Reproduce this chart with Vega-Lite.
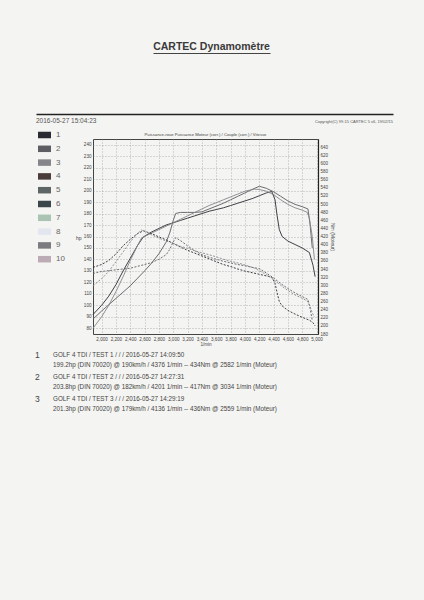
{
  "$schema": "https://vega.github.io/schema/vega-lite/v6.json",
  "background": "#f4f4f2",
  "padding": {"left": 35, "top": 41, "right": 32, "bottom": 187},
  "config": {
    "font": "Liberation Sans",
    "view": {"stroke": null},
    "axis": {"labelFont": "Liberation Sans", "titleFont": "Liberation Sans", "labelColor": "#444", "titleColor": "#444", "titleFontWeight": "normal"}
  },
  "spacing": 1,
  "datasets": {
    "runs": [
      {"test": "1", "rpm": 1880, "hp": 92, "nm": 344},
      {"test": "1", "rpm": 2000, "hp": 100, "nm": 351},
      {"test": "1", "rpm": 2100, "hp": 108, "nm": 361},
      {"test": "1", "rpm": 2200, "hp": 118, "nm": 377},
      {"test": "1", "rpm": 2300, "hp": 130, "nm": 397},
      {"test": "1", "rpm": 2400, "hp": 141, "nm": 413},
      {"test": "1", "rpm": 2500, "hp": 152, "nm": 427},
      {"test": "1", "rpm": 2582, "hp": 159.6, "nm": 434},
      {"test": "1", "rpm": 2700, "hp": 164, "nm": 427},
      {"test": "1", "rpm": 2800, "hp": 167, "nm": 419},
      {"test": "1", "rpm": 2900, "hp": 170, "nm": 412},
      {"test": "1", "rpm": 3000, "hp": 172, "nm": 403},
      {"test": "1", "rpm": 3100, "hp": 174, "nm": 394},
      {"test": "1", "rpm": 3200, "hp": 176, "nm": 386},
      {"test": "1", "rpm": 3300, "hp": 178, "nm": 379},
      {"test": "1", "rpm": 3400, "hp": 180, "nm": 372},
      {"test": "1", "rpm": 3500, "hp": 182, "nm": 365},
      {"test": "1", "rpm": 3600, "hp": 183.5, "nm": 358},
      {"test": "1", "rpm": 3700, "hp": 185, "nm": 351},
      {"test": "1", "rpm": 3800, "hp": 187, "nm": 346},
      {"test": "1", "rpm": 3900, "hp": 189, "nm": 340},
      {"test": "1", "rpm": 4000, "hp": 191, "nm": 335},
      {"test": "1", "rpm": 4100, "hp": 193, "nm": 331},
      {"test": "1", "rpm": 4200, "hp": 195.5, "nm": 327},
      {"test": "1", "rpm": 4300, "hp": 198, "nm": 323},
      {"test": "1", "rpm": 4376, "hp": 199.2, "nm": 320},
      {"test": "1", "rpm": 4420, "hp": 192, "nm": 305},
      {"test": "1", "rpm": 4450, "hp": 178, "nm": 281},
      {"test": "1", "rpm": 4480, "hp": 166, "nm": 260},
      {"test": "1", "rpm": 4520, "hp": 160, "nm": 249},
      {"test": "1", "rpm": 4600, "hp": 156, "nm": 238},
      {"test": "1", "rpm": 4700, "hp": 153, "nm": 229},
      {"test": "1", "rpm": 4800, "hp": 150, "nm": 221},
      {"test": "1", "rpm": 4900, "hp": 146, "nm": 214},
      {"test": "1", "rpm": 4950, "hp": 135, "nm": 208},
      {"test": "1", "rpm": 4980, "hp": 125, "nm": 200},
      {"test": "2", "rpm": 1880, "hp": 88, "nm": 329},
      {"test": "2", "rpm": 2000, "hp": 95, "nm": 334},
      {"test": "2", "rpm": 2200, "hp": 106, "nm": 338},
      {"test": "2", "rpm": 2400, "hp": 117, "nm": 342},
      {"test": "2", "rpm": 2600, "hp": 130, "nm": 351},
      {"test": "2", "rpm": 2700, "hp": 137, "nm": 356},
      {"test": "2", "rpm": 2800, "hp": 145, "nm": 364},
      {"test": "2", "rpm": 2900, "hp": 155, "nm": 375},
      {"test": "2", "rpm": 2950, "hp": 163, "nm": 388},
      {"test": "2", "rpm": 3000, "hp": 174, "nm": 407},
      {"test": "2", "rpm": 3034, "hp": 180.1, "nm": 417},
      {"test": "2", "rpm": 3100, "hp": 181, "nm": 410},
      {"test": "2", "rpm": 3200, "hp": 181, "nm": 397},
      {"test": "2", "rpm": 3300, "hp": 181, "nm": 385},
      {"test": "2", "rpm": 3400, "hp": 181.5, "nm": 375},
      {"test": "2", "rpm": 3500, "hp": 184, "nm": 369},
      {"test": "2", "rpm": 3600, "hp": 186.5, "nm": 364},
      {"test": "2", "rpm": 3700, "hp": 189, "nm": 359},
      {"test": "2", "rpm": 3800, "hp": 192, "nm": 355},
      {"test": "2", "rpm": 3900, "hp": 195, "nm": 351},
      {"test": "2", "rpm": 4000, "hp": 198, "nm": 348},
      {"test": "2", "rpm": 4100, "hp": 201, "nm": 344},
      {"test": "2", "rpm": 4201, "hp": 203.8, "nm": 341},
      {"test": "2", "rpm": 4300, "hp": 202, "nm": 330},
      {"test": "2", "rpm": 4400, "hp": 199, "nm": 318},
      {"test": "2", "rpm": 4500, "hp": 195, "nm": 304},
      {"test": "2", "rpm": 4600, "hp": 191, "nm": 292},
      {"test": "2", "rpm": 4700, "hp": 188, "nm": 281},
      {"test": "2", "rpm": 4800, "hp": 186, "nm": 272},
      {"test": "2", "rpm": 4880, "hp": 184, "nm": 265},
      {"test": "2", "rpm": 4910, "hp": 170, "nm": 243},
      {"test": "2", "rpm": 4940, "hp": 150, "nm": 213},
      {"test": "3", "rpm": 1880, "hp": 80, "nm": 299},
      {"test": "3", "rpm": 2000, "hp": 90, "nm": 316},
      {"test": "3", "rpm": 2100, "hp": 100, "nm": 334},
      {"test": "3", "rpm": 2200, "hp": 112, "nm": 358},
      {"test": "3", "rpm": 2300, "hp": 125, "nm": 382},
      {"test": "3", "rpm": 2400, "hp": 139, "nm": 407},
      {"test": "3", "rpm": 2500, "hp": 152, "nm": 427},
      {"test": "3", "rpm": 2559, "hp": 158.9, "nm": 436},
      {"test": "3", "rpm": 2700, "hp": 163, "nm": 424},
      {"test": "3", "rpm": 2800, "hp": 166, "nm": 416},
      {"test": "3", "rpm": 2900, "hp": 169, "nm": 409},
      {"test": "3", "rpm": 3000, "hp": 172, "nm": 403},
      {"test": "3", "rpm": 3100, "hp": 175, "nm": 396},
      {"test": "3", "rpm": 3200, "hp": 178, "nm": 391},
      {"test": "3", "rpm": 3300, "hp": 181, "nm": 385},
      {"test": "3", "rpm": 3400, "hp": 184, "nm": 380},
      {"test": "3", "rpm": 3500, "hp": 187, "nm": 375},
      {"test": "3", "rpm": 3600, "hp": 189.5, "nm": 370},
      {"test": "3", "rpm": 3700, "hp": 192, "nm": 364},
      {"test": "3", "rpm": 3800, "hp": 194.5, "nm": 359},
      {"test": "3", "rpm": 3900, "hp": 197, "nm": 355},
      {"test": "3", "rpm": 4000, "hp": 199.5, "nm": 350},
      {"test": "3", "rpm": 4136, "hp": 201.3, "nm": 342},
      {"test": "3", "rpm": 4200, "hp": 201, "nm": 336},
      {"test": "3", "rpm": 4300, "hp": 199.5, "nm": 326},
      {"test": "3", "rpm": 4400, "hp": 196.5, "nm": 314},
      {"test": "3", "rpm": 4500, "hp": 192, "nm": 300},
      {"test": "3", "rpm": 4600, "hp": 188, "nm": 287},
      {"test": "3", "rpm": 4700, "hp": 185, "nm": 276},
      {"test": "3", "rpm": 4800, "hp": 183, "nm": 268},
      {"test": "3", "rpm": 4870, "hp": 181, "nm": 261},
      {"test": "3", "rpm": 4900, "hp": 176, "nm": 252},
      {"test": "3", "rpm": 4940, "hp": 160, "nm": 232},
      {"test": "3", "rpm": 4970, "hp": 140, "nm": 222}
    ],
    "tests": [
      {"test": "1", "info": "GOLF 4 TDI / TEST 1 /  /  / 2016-05-27 14:09:50\n199.2hp (DIN 70020) @ 190km/h / 4376 1/min -- 434Nm @ 2582 1/min (Moteur)"},
      {"test": "2", "info": "GOLF 4 TDI / TEST 2 /  /  / 2016-05-27 14:27:31\n203.8hp (DIN 70020) @ 182km/h / 4201 1/min -- 417Nm @ 3034 1/min (Moteur)"},
      {"test": "3", "info": "GOLF 4 TDI / TEST 3 /  /  / 2016-05-27 14:29:19\n201.3hp (DIN 70020) @ 179km/h / 4136 1/min -- 436Nm @ 2559 1/min (Moteur)"}
    ]
  },
  "vconcat": [
    {
      "width": 237,
      "height": 60,
      "title": {"text": "CARTEC Dynamomètre", "fontSize": 10.5, "fontWeight": "bold", "color": "#3a3a3a", "anchor": "middle", "offset": 1},
      "data": {"values": []},
      "mark": {"type": "text"},
      "encoding": {
        "x": {"field": "side", "type": "nominal", "scale": {"type": "point", "domain": ["start", "end"], "range": [60, 177], "padding": 0},
              "axis": {"orient": "top", "title": null, "labels": false, "ticks": false, "domain": true, "domainColor": "#444", "domainWidth": 1}}
      }
    },
    {
      "width": 300,
      "height": 17,
      "encoding": {
        "x": {"field": "side", "type": "nominal", "scale": {"type": "point", "domain": ["left", "right"], "range": [-57, 300], "padding": 0},
              "axis": {"orient": "top", "title": null, "labels": false, "ticks": false, "domain": true, "domainColor": "#222", "domainWidth": 1.5}},
        "text": {"field": "label"}
      },
      "layer": [
        {"data": {"values": [{"side": "left", "label": "2016-05-27 15:04:23"}]},
         "mark": {"type": "text", "align": "left", "baseline": "alphabetic", "fontSize": 6.5, "color": "#555"}},
        {"data": {"values": [{"side": "right", "label": "Copyright(C) 99-15 CARTEC 5 v6, 19/02/15"}]},
         "mark": {"type": "text", "align": "right", "baseline": "alphabetic", "fontSize": 4, "color": "#555"}}
      ]
    },
    {
      "width": 225,
      "height": 195,
      "view": {"stroke": "#444", "strokeWidth": 1},
      "title": {"text": "Puissance-roue Puissance Moteur (corr.) / Couple (corr.) / Vitesse", "fontSize": 4.2, "fontWeight": "normal", "color": "#444", "offset": 2, "anchor": "middle"},
      "data": {"name": "runs"},
      "encoding": {
        "x": {"field": "rpm", "type": "quantitative",
              "scale": {"domain": [1880, 5020], "nice": false, "zero": false},
              "axis": {"values": [2000, 2200, 2400, 2600, 2800, 3000, 3200, 3400, 3600, 3800, 4000, 4200, 4400, 4600, 4800, 5000],
                       "format": ",.0f", "labelFontSize": 4.6, "labelPadding": 2, "tickSize": 0, "domain": false,
                       "grid": true, "gridDash": [1, 2], "gridColor": "#8a8a8a", "gridWidth": 0.6,
                       "title": "1/min", "titleFontSize": 4.6, "titlePadding": 1}},
        "color": {"field": "test", "type": "nominal",
                  "scale": {"domain": ["1", "2", "3", "4", "5", "6", "7", "8", "9", "10"],
                            "range": ["#2b2b33", "#5e5e62", "#86868a", "#4b3c3c", "#5d6664", "#3c474c", "#a9c4b2", "#e3e6ef", "#7c7c80", "#bcaab4"]},
                  "legend": {"orient": "none", "legendX": -58, "legendY": 72.5, "padding": 3, "title": null,
                             "symbolType": "M-1,-0.5H1V0.5H-1Z", "symbolSize": 169, "symbolStrokeWidth": 0, "symbolDash": [],
                             "labelFontSize": 8, "labelColor": "#666", "labelOffset": 5, "rowPadding": 2.8,
                             "encode": {"symbols": {"update": {"fill": {"scale": "color", "field": "value"}, "fillOpacity": {"value": 1}}}}}}
      },
      "layer": [
        {
          "mark": {"type": "line", "strokeWidth": 0.9},
          "encoding": {
            "y": {"field": "hp", "type": "quantitative",
                  "scale": {"domain": [75, 245], "nice": false, "zero": false},
                  "axis": {"values": [80, 90, 100, 110, 120, 130, 140, 150, 160, 170, 180, 190, 200, 210, 220, 230, 240],
                           "labelFontSize": 4.6, "labelPadding": 2, "tickSize": 0, "domain": false,
                           "grid": true, "gridDash": [1, 2], "gridColor": "#8a8a8a", "gridWidth": 0.6,
                           "title": "hp", "titleAngle": 0, "titleFontSize": 5, "titleX": -12, "titleY": 98, "titleAlign": "right", "titleBaseline": "middle"}}
          }
        },
        {
          "mark": {"type": "line", "strokeWidth": 0.9, "strokeDash": [2, 1.5]},
          "encoding": {
            "y": {"field": "nm", "type": "quantitative",
                  "scale": {"domain": [180, 660], "nice": false, "zero": false},
                  "axis": {"orient": "right", "values": [180, 200, 220, 240, 260, 280, 300, 320, 340, 360, 380, 400, 420, 440, 460, 480, 500, 520, 540, 560, 580, 600, 620, 640],
                           "labelFontSize": 4.5, "labelPadding": 2, "tickSize": 0, "grid": false,
                           "domainColor": "#222", "domainWidth": 1.2,
                           "title": "Nm (Moteur)", "titleFontSize": 5, "titlePadding": 2}}
          }
        }
      ],
      "resolve": {"scale": {"y": "independent"}}
    },
    {
      "width": 240,
      "height": 58,
      "data": {"name": "tests"},
      "encoding": {
        "y": {"field": "test", "type": "ordinal", "scale": {"padding": 0.3}, "axis": null}
      },
      "layer": [
        {
          "mark": {"type": "text", "align": "left", "baseline": "middle", "fontSize": 8.5, "color": "#444"},
          "encoding": {
            "x": {"datum": "num", "type": "nominal", "scale": {"type": "point", "domain": ["num", "info"], "range": [-58, -40], "padding": 0}, "axis": null},
            "text": {"field": "test"}
          }
        },
        {
          "mark": {"type": "text", "align": "left", "baseline": "middle", "lineBreak": "\n", "fontSize": 6.3, "lineHeight": 10, "color": "#444"},
          "encoding": {
            "x": {"datum": "info", "type": "nominal", "scale": {"type": "point", "domain": ["num", "info"], "range": [-58, -40], "padding": 0}, "axis": null},
            "text": {"field": "info"}
          }
        }
      ]
    }
  ]
}
